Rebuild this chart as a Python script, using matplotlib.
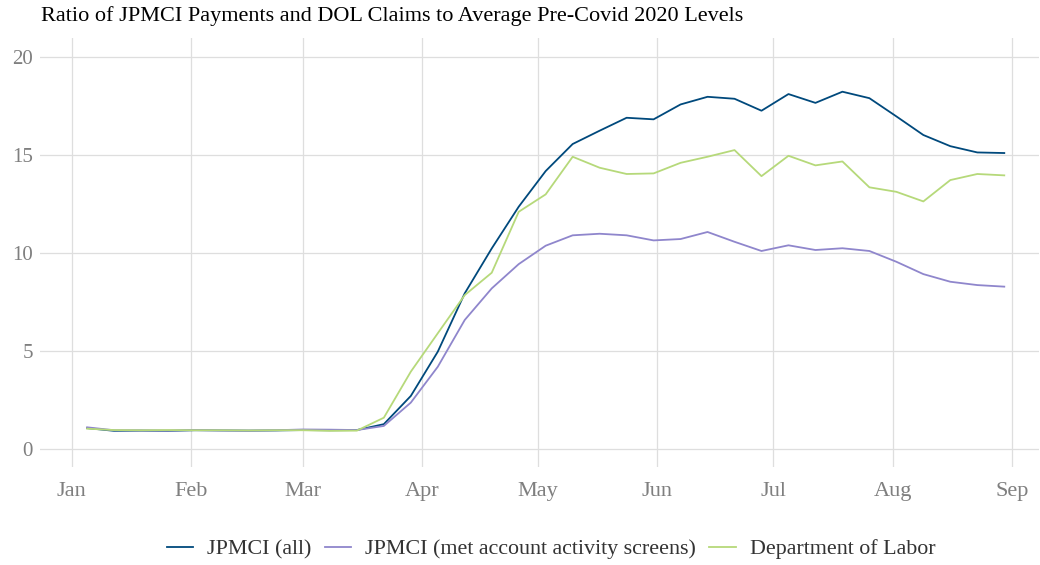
import matplotlib
matplotlib.use("Agg")
import matplotlib.pyplot as plt
import matplotlib.dates as mdates
import pandas as pd

plt.rcParams["font.family"] = ["Liberation Serif", "DejaVu Serif"]

weeks = pd.date_range("2020-01-05", "2020-08-30", freq="7D")

jpmci_all = [1.08, 0.94, 0.95, 0.94, 0.97, 0.96, 0.95, 0.96, 0.98, 0.97, 0.98,
             1.28, 2.72, 4.98, 7.96, 10.25, 12.38, 14.2, 15.58, 16.26, 16.92,
             16.84, 17.6, 17.99, 17.89, 17.28, 18.13, 17.68, 18.25, 17.92,
             16.99, 16.04, 15.47, 15.15, 15.12]
jpmci_screens = [1.12, 0.97, 0.96, 0.95, 0.98, 0.96, 0.95, 0.97, 1.01, 1.0, 0.98,
                 1.19, 2.38, 4.21, 6.6, 8.21, 9.45, 10.39, 10.92, 11.0, 10.92,
                 10.66, 10.73, 11.09, 10.59, 10.12, 10.41, 10.17, 10.26, 10.12,
                 9.57, 8.94, 8.55, 8.38, 8.30]
dol = [1.05, 0.98, 0.97, 0.98, 0.97, 0.97, 0.96, 0.97, 0.97, 0.94, 0.95,
       1.61, 3.96, 5.92, 7.87, 9.01, 12.12, 13.01, 14.93, 14.37, 14.05,
       14.08, 14.62, 14.93, 15.27, 13.94, 14.98, 14.49, 14.69, 13.37,
       13.14, 12.65, 13.74, 14.05, 13.98]

fig = plt.figure(figsize=(10.4, 5.65), dpi=100)
ax = fig.add_axes([0.0385, 0.174, 0.9605, 0.758])

ax.plot(weeks, jpmci_all, color="#00497c", lw=1.3, label="JPMCI (all)")
ax.plot(weeks, jpmci_screens, color="#8f86cc", lw=1.3, label="JPMCI (met account activity screens)")
ax.plot(weeks, dol, color="#b6d97a", lw=1.3, label="Department of Labor")

ax.set_xlim(pd.Timestamp("2019-12-23 19:00"), pd.Timestamp("2020-09-08"))
ax.set_ylim(-0.89, 20.97)
ax.set_yticks([0, 5, 10, 15, 20])
ax.xaxis.set_major_locator(mdates.MonthLocator())
ax.xaxis.set_major_formatter(mdates.DateFormatter("%b"))

ax.grid(True, color="#dedede", lw=0.9)
ax.set_axisbelow(True)
for s in ax.spines.values():
    s.set_visible(False)
ax.tick_params(length=0, labelcolor="#7f7f7f")
ax.tick_params(axis="y", labelsize=15, pad=5)
ax.tick_params(axis="x", labelsize=16, pad=11)

fig.text(0.039, 0.972, "Ratio of JPMCI Payments and DOL Claims to Average Pre-Covid 2020 Levels",
         fontsize=16, va="center", ha="left")

fig.legend(loc="center", bbox_to_anchor=(0.53, 0.028), ncol=3, frameon=False,
           fontsize=15.8, handlelength=1.2, handletextpad=0.65, columnspacing=0.6,
           labelcolor="#333333")

fig.savefig("out.png", dpi=100)
